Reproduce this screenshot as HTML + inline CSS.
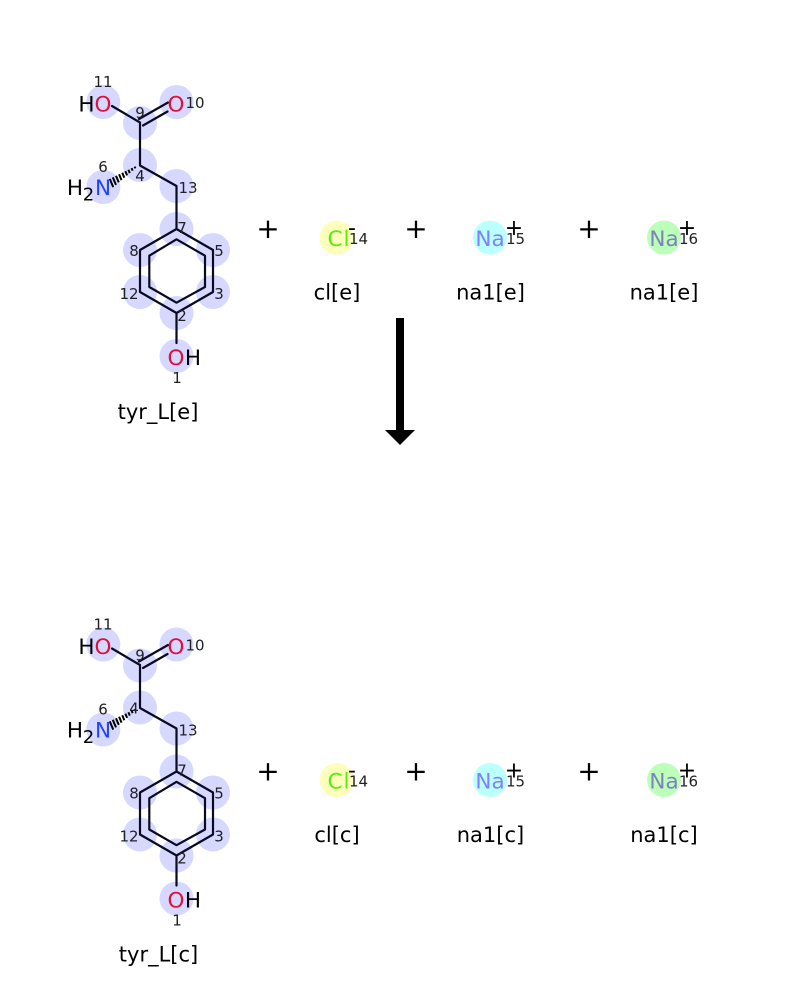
<!DOCTYPE html>
<html>
<head>
<meta charset="utf-8">
<style>
html,body{margin:0;padding:0;background:#fff;width:800px;height:1000px;overflow:hidden}
svg{display:block}
text{font-family:"DejaVu Sans",sans-serif}
.n{font-size:15px;fill:#222;text-anchor:middle}
.a{font-size:21.500px;text-anchor:middle}
.l{font-size:21px;fill:#000;text-anchor:middle}
.p{font-size:28px;fill:#000;text-anchor:middle}
.q{font-size:22px;fill:#000;text-anchor:middle}
.b{stroke:#0a0a20;stroke-width:2.200;fill:none;stroke-linecap:round;stroke-linejoin:round}
.h{stroke:#000;stroke-width:2;fill:none}
.c{fill:#d6d8ff}
</style>
</head>
<body>
<svg width="800" height="1000" viewBox="0 0 800 1000" xmlns="http://www.w3.org/2000/svg">
<rect width="800" height="1000" fill="#fff"/>

<g>
<g class="c">
<circle cx="103.300" cy="102" r="17"/><circle cx="176.500" cy="102" r="17"/><circle cx="140" cy="123" r="17"/><circle cx="140" cy="165" r="17"/><circle cx="103.300" cy="187" r="17"/><circle cx="176.500" cy="186" r="17"/><circle cx="176.500" cy="229" r="17"/><circle cx="140" cy="250" r="17"/><circle cx="213" cy="250" r="17"/><circle cx="140" cy="292" r="17"/><circle cx="213" cy="292" r="17"/><circle cx="176.500" cy="313" r="17"/><circle cx="176.500" cy="356" r="17"/>
</g>
<path class="b" d="M112 106L140 122.500M139 119L168 102.500M143 125.500L167.500 111.500M140 122.500V165.500L176.500 186V229M176.500 229L213 250V292L176.500 313L140 292V250ZM176.500 239.300L205 255.700V287L176.500 302.700L149.300 287V255.700ZM176.500 313V343"/>
<path class="h" d="M135.400 168.400L134.600 166.600M132.600 170.700L131.600 168.100M129.800 173.100L128.400 169.700M127.100 175.400L125.300 171.200M124.300 177.800L122.300 172.800M121.500 180.100L119.100 174.300M118.800 182.400L116 175.800M116 184.900L112.800 177.300M113.200 187.100L109.800 178.900"/>
<text class="a" x="86.500" y="111.500" fill="#000">H</text><text class="a" x="103" y="111.500" fill="#e0103c">O</text>
<text class="a" x="176" y="111.500" fill="#e0103c">O</text>
<text class="a" x="75" y="195" fill="#000">H</text><text x="88.500" y="200.500" fill="#000" style="font-size:18px;text-anchor:middle">2</text><text class="a" x="103" y="195" fill="#2244ff">N</text>
<text class="a" x="176" y="365" fill="#e0103c">O</text><text class="a" x="193" y="365" fill="#000">H</text>
<text class="n" x="103" y="87">11</text><text class="n" x="195" y="108">10</text><text class="n" x="140" y="118">9</text><text class="n" x="103" y="172">6</text><text class="n" x="140" y="181">4</text><text class="n" x="188" y="193">13</text><text class="n" x="182" y="233">7</text><text class="n" x="219" y="256">5</text><text class="n" x="134" y="256">8</text><text class="n" x="129" y="299">12</text><text class="n" x="219" y="299">3</text><text class="n" x="182" y="321">2</text><text class="n" x="177" y="383">1</text>
<text class="l" x="158" y="419">tyr_L[e]</text>

<text class="p" x="268" y="238">+</text><text class="p" x="416" y="238">+</text><text class="p" x="589" y="238">+</text>
<circle cx="336.700" cy="237.500" r="17" fill="#ffffbb"/><circle cx="490" cy="237.500" r="17" fill="#bbffff"/><circle cx="664" cy="237.500" r="17" fill="#bbffbb"/>
<text class="a" x="339" y="246" fill="#55ee11" style="letter-spacing:1px">Cl</text><text class="a" x="490" y="246" fill="#8080ff">Na</text><text class="a" x="664" y="246" fill="#8080c0">Na</text>
<text class="q" x="352" y="235">-</text><text class="q" x="514" y="235">+</text><text class="q" x="687" y="235">+</text>
<text class="n" x="358.500" y="244">14</text><text class="n" x="515.500" y="244">15</text><text class="n" x="688.500" y="244">16</text>
<text class="l" x="337" y="299.500">cl[e]</text><text class="l" x="490.500" y="299.500">na1[e]</text><text class="l" x="664" y="299.500">na1[e]</text>
</g>

<path d="M396 318H404V430H415L400 445L385 430H396Z" fill="#000"/>

<g transform="translate(0,542.500)">
<g class="c">
<circle cx="103.300" cy="102" r="17"/><circle cx="176.500" cy="102" r="17"/><circle cx="140" cy="123" r="17"/><circle cx="140" cy="165" r="17"/><circle cx="103.300" cy="187" r="17"/><circle cx="176.500" cy="186" r="17"/><circle cx="176.500" cy="229" r="17"/><circle cx="140" cy="250" r="17"/><circle cx="213" cy="250" r="17"/><circle cx="140" cy="292" r="17"/><circle cx="213" cy="292" r="17"/><circle cx="176.500" cy="313" r="17"/><circle cx="176.500" cy="356" r="17"/>
</g>
<path class="b" d="M112 106L140 122.500M139 119L168 102.500M143 125.500L167.500 111.500M140 122.500V165.500L176.500 186V229M176.500 229L213 250V292L176.500 313L140 292V250ZM176.500 239.300L205 255.700V287L176.500 302.700L149.300 287V255.700ZM176.500 313V343"/>
<path class="h" d="M135.400 168.400L134.600 166.600M132.600 170.700L131.600 168.100M129.800 173.100L128.400 169.700M127.100 175.400L125.300 171.200M124.300 177.800L122.300 172.800M121.500 180.100L119.100 174.300M118.800 182.400L116 175.800M116 184.900L112.800 177.300M113.200 187.100L109.800 178.900"/>
<text class="a" x="86.500" y="111.500" fill="#000">H</text><text class="a" x="103" y="111.500" fill="#e0103c">O</text>
<text class="a" x="176" y="111.500" fill="#e0103c">O</text>
<text class="a" x="75" y="195" fill="#000">H</text><text x="88.500" y="200.500" fill="#000" style="font-size:18px;text-anchor:middle">2</text><text class="a" x="103" y="195" fill="#2244ff">N</text>
<text class="a" x="176" y="365" fill="#e0103c">O</text><text class="a" x="193" y="365" fill="#000">H</text>
<text class="n" x="103" y="87">11</text><text class="n" x="195" y="108">10</text><text class="n" x="140" y="118">9</text><text class="n" x="103" y="172">6</text><text class="n" x="134" y="171">4</text><text class="n" x="188" y="193">13</text><text class="n" x="182" y="233">7</text><text class="n" x="219" y="256">5</text><text class="n" x="134" y="256">8</text><text class="n" x="129" y="299">12</text><text class="n" x="219" y="299">3</text><text class="n" x="182" y="321">2</text><text class="n" x="177" y="383">1</text>
<text class="l" x="158.500" y="419">tyr_L[c]</text>

<text class="p" x="268" y="238">+</text><text class="p" x="416" y="238">+</text><text class="p" x="589" y="238">+</text>
<circle cx="336.700" cy="237.500" r="17" fill="#ffffbb"/><circle cx="490" cy="237.500" r="17" fill="#bbffff"/><circle cx="664" cy="237.500" r="17" fill="#bbffbb"/>
<text class="a" x="339" y="246" fill="#55ee11" style="letter-spacing:1px">Cl</text><text class="a" x="490" y="246" fill="#8080ff">Na</text><text class="a" x="664" y="246" fill="#8080c0">Na</text>
<text class="q" x="352" y="235">-</text><text class="q" x="514" y="235">+</text><text class="q" x="687" y="235">+</text>
<text class="n" x="358.500" y="244">14</text><text class="n" x="515.500" y="244">15</text><text class="n" x="688.500" y="244">16</text>
<text class="l" x="337" y="299.500">cl[c]</text><text class="l" x="490.500" y="299.500">na1[c]</text><text class="l" x="664" y="299.500">na1[c]</text>
</g>
</svg>
</body>
</html>
